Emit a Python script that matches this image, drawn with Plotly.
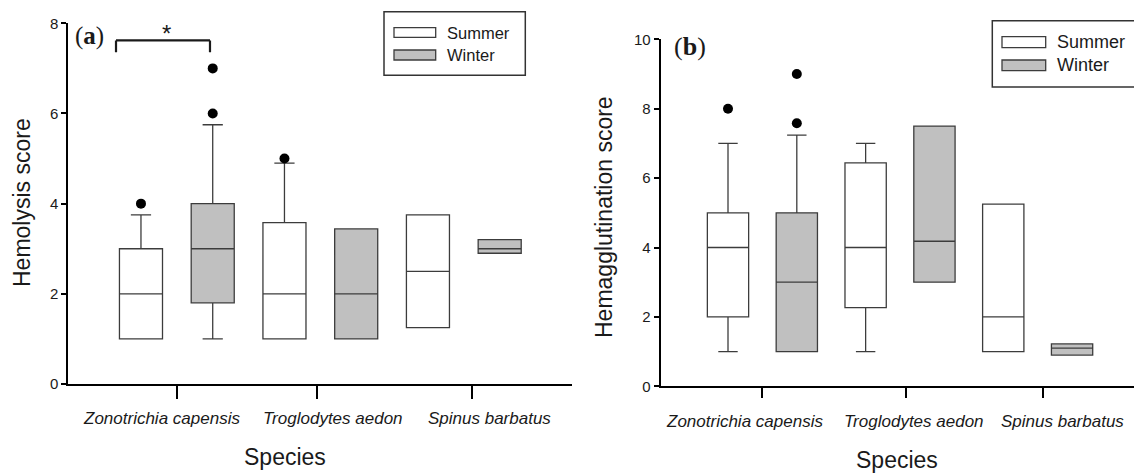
import plotly.graph_objects as go

W, H = 1134, 474

# ---------------- data ----------------
species = ["Zonotrichia capensis", "Troglodytes aedon", "Spinus barbatus"]
seasons = ["Summer", "Winter"]

# Panel (a) Hemolysis score
hemo_summer_low = [1.0, 1.0, 1.25]
hemo_summer_q1 = [1.0, 1.0, 1.25]
hemo_summer_med = [2.0, 2.0, 2.5]
hemo_summer_q3 = [3.0, 3.58, 3.75]
hemo_summer_high = [3.75, 4.9, 3.75]
hemo_summer_out = [[4.0], [5.0], []]

hemo_winter_low = [1.0, 1.0, 2.9]
hemo_winter_q1 = [1.8, 1.0, 2.9]
hemo_winter_med = [3.0, 2.0, 3.0]
hemo_winter_q3 = [4.0, 3.44, 3.2]
hemo_winter_high = [5.75, 3.44, 3.2]
hemo_winter_out = [[6.0, 7.0], [], []]

# Panel (b) Hemagglutination score
hemag_summer_low = [1.0, 1.0, 1.0]
hemag_summer_q1 = [2.0, 2.27, 1.0]
hemag_summer_med = [4.0, 4.0, 2.0]
hemag_summer_q3 = [5.0, 6.44, 5.25]
hemag_summer_high = [7.0, 7.0, 5.25]
hemag_summer_out = [[8.0], [], []]

hemag_winter_low = [1.0, 3.0, 0.9]
hemag_winter_q1 = [1.0, 3.0, 0.9]
hemag_winter_med = [3.0, 4.18, 1.1]
hemag_winter_q3 = [5.0, 7.5, 1.22]
hemag_winter_high = [7.24, 7.5, 1.22]
hemag_winter_out = [[7.58, 9.0], [], []]

# ---------------- styling ----------------
FONT = "Arial, 'Liberation Sans', sans-serif"
SERIF = "'Times New Roman', 'Liberation Serif', serif"
LINE = "#3c3c3c"
TXT = "#1a1a1a"
FILLS = {"Summer": "#ffffff", "Winter": "#c0c0c0"}


def px(x):
    return x / W


def py(y):
    return 1 - y / H


fig = go.Figure()

panels = [
    dict(xa="x", ya="y",
         summer=(hemo_summer_low, hemo_summer_q1, hemo_summer_med, hemo_summer_q3, hemo_summer_high, hemo_summer_out),
         winter=(hemo_winter_low, hemo_winter_q1, hemo_winter_med, hemo_winter_q3, hemo_winter_high, hemo_winter_out)),
    dict(xa="x2", ya="y2",
         summer=(hemag_summer_low, hemag_summer_q1, hemag_summer_med, hemag_summer_q3, hemag_summer_high, hemag_summer_out),
         winter=(hemag_winter_low, hemag_winter_q1, hemag_winter_med, hemag_winter_q3, hemag_winter_high, hemag_winter_out)),
]

for p in panels:
    for si, season in enumerate(seasons):
        low, q1, med, q3, high, outs = p[season.lower()]
        xs = [2 * i + 1 + si for i in range(len(species))]
        fig.add_trace(go.Box(
            x=xs, q1=q1, median=med, q3=q3, lowerfence=low, upperfence=high,
            name=season, width=0.6, whiskerwidth=0.47,
            fillcolor=FILLS[season], line=dict(color=LINE, width=1.3),
            boxpoints=False, showlegend=False, hoverinfo="skip",
            xaxis=p["xa"], yaxis=p["ya"]))
        ox, oy = [], []
        for i, vals in enumerate(outs):
            for v in vals:
                ox.append(xs[i])
                oy.append(v)
        if ox:
            fig.add_trace(go.Scatter(
                x=ox, y=oy, mode="markers",
                marker=dict(color="black", size=10),
                showlegend=False, hoverinfo="skip",
                xaxis=p["xa"], yaxis=p["ya"]))

x_common = dict(showline=True, linecolor="black", linewidth=2, showgrid=False,
                zeroline=False, ticks="outside", tickcolor="black", tickwidth=2,
                tickangle=0, automargin=False, showticklabels=False)
y_common = dict(showline=True, linecolor="black", linewidth=2, showgrid=False,
                zeroline=False, ticks="outside", tickcolor="black", tickwidth=1.5,
                ticklen=5, automargin=False,
                tickfont=dict(family=FONT, size=15, color=TXT))

fig.update_layout(
    width=W, height=H, autosize=False,
    margin=dict(l=0, r=0, t=0, b=0),
    paper_bgcolor="white", plot_bgcolor="white",
    boxmode="overlay",
    font=dict(family=FONT, color=TXT),
    xaxis=dict(domain=[px(68.3), px(572)], range=[-0.013, 7.008], anchor="y",
               tickmode="array", tickvals=[1.505, 3.46, 5.61], ticklen=13,
               **x_common),
    yaxis=dict(domain=[py(384), py(23.3)], range=[0, 8], anchor="x",
               tickmode="array", tickvals=[0, 2, 4, 6, 8], **y_common),
    xaxis2=dict(domain=[px(660.7), 1.0], range=[0.022, 6.90], anchor="y2",
                tickmode="array", tickvals=[1.494, 3.58, 5.58], ticklen=10,
                **x_common),
    yaxis2=dict(domain=[py(386.3), py(39.3)], range=[0, 10], anchor="x2",
                tickmode="array", tickvals=[0, 2, 4, 6, 8, 10], **y_common),
)

ann = []
shapes = []


def text(t, x, y, size, family=FONT, angle=0, xanchor="center"):
    ann.append(dict(text=t, x=px(x), y=py(y), xref="paper", yref="paper",
                    xanchor=xanchor, yanchor="middle", textangle=angle,
                    showarrow=False, font=dict(size=size, family=family, color=TXT)))


# category labels (italic) under each panel
for name, cx in zip(species, [161, 333, 489]):
    text(f"<i>{name}</i>", cx, 418, 17)
for name, cx in zip(species, [744, 914, 1062]):
    text(f"<i>{name}</i>", cx, 421, 17)

# axis titles
text("Hemolysis score", 22, 203, 23, angle=-90)
text("Species", 285, 457, 23)
text("Hemagglutination score", 604, 217, 23, angle=-90)
text("Species", 897, 460, 23)
# panel labels
text("(<b>a</b>)", 89, 36, 25, family=SERIF)
text("(<b>b</b>)", 689.5, 46, 26, family=SERIF)

# significance bracket in panel (a)
bx0, bx1, by_top, by_bot = 0.652, 1.962, 7.62, 7.36
for (x0, y0, x1, y1) in [(bx0, by_bot, bx0, by_top), (bx0, by_top, bx1, by_top), (bx1, by_top, bx1, by_bot)]:
    shapes.append(dict(type="line", xref="x", yref="y", x0=x0, y0=y0, x1=x1, y1=y1,
                       line=dict(color=TXT, width=2.2)))
ann.append(dict(text="*", x=1.35, y=7.78, xref="x", yref="y", showarrow=False,
                xanchor="center", yanchor="middle",
                font=dict(size=24, family=FONT, color=TXT)))


# custom legends
def legend(box, sw_x, sw_rows, text_x, fsize):
    x0, x1, y0, y1 = box
    shapes.append(dict(type="rect", xref="paper", yref="paper",
                       x0=px(x0), x1=px(x1), y0=py(y1), y1=py(y0),
                       line=dict(color="#333333", width=1.5), fillcolor="white", layer="above"))
    for season, (ya, yb) in zip(seasons, sw_rows):
        shapes.append(dict(type="rect", xref="paper", yref="paper",
                           x0=px(sw_x[0]), x1=px(sw_x[1]), y0=py(yb), y1=py(ya),
                           line=dict(color=LINE, width=1.3), fillcolor=FILLS[season], layer="above"))
        text(season, text_x, (ya + yb) / 2, fsize, xanchor="left")


legend((384, 525.3, 11.7, 75.3), (394, 435.7), [(27.7, 37.3), (50, 60)], 445, 16.5)
legend((992.3, 1140, 20.7, 87), (1002, 1045.7), [(36.7, 47.7), (60, 70.7)], 1054.5, 18)

fig.update_layout(annotations=ann, shapes=shapes)

fig.write_html("out.html", config={"displayModeBar": False},
               post_script="document.body.style.margin='0';")
